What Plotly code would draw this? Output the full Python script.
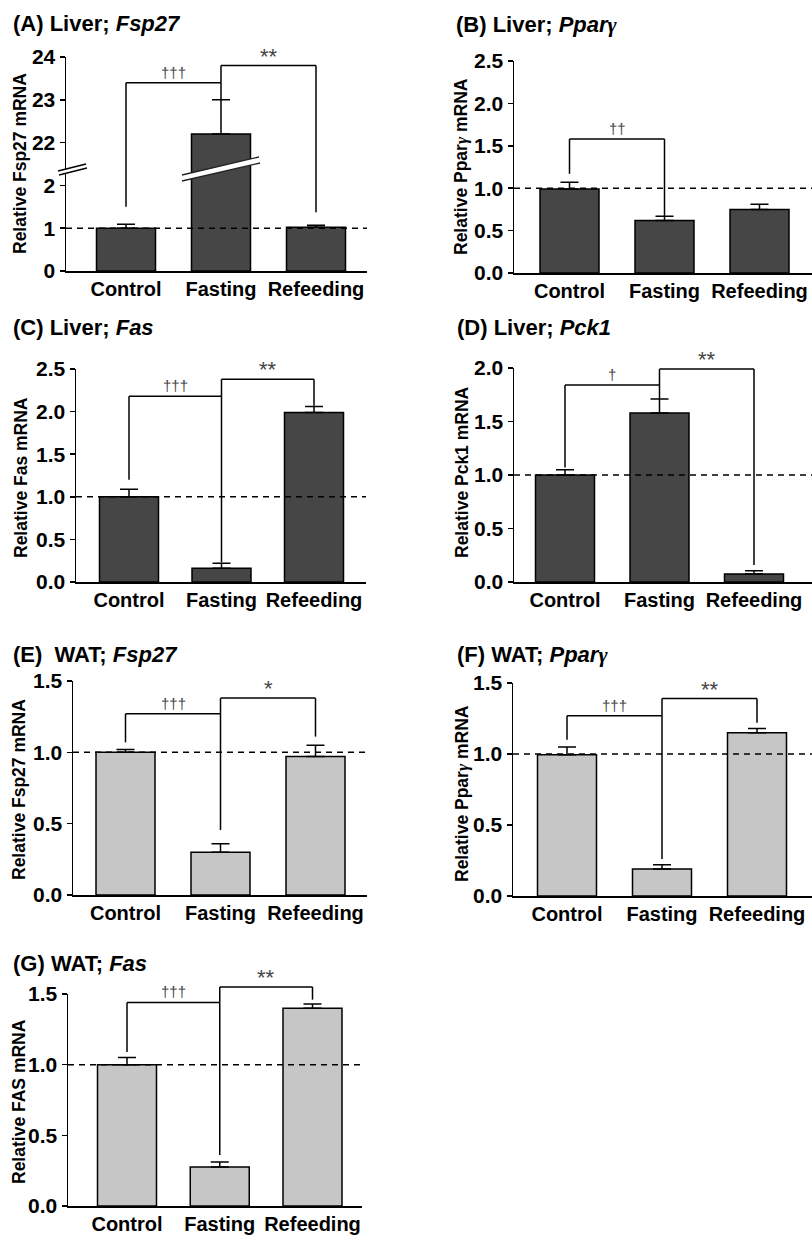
import plotly.graph_objects as go

W, H = 812, 1236
FONT = "Liberation Sans, Arial, Helvetica, sans-serif"
GAMMA = "<span style=\"font-family:Liberation Serif\"><i>\u03b3</i></span>"

categories = ["Control", "Fasting", "Refeeding"]

# ---- data (relative mRNA, mean and upper SEM) ----
liver_fsp27 = [1.00, 22.2, 1.02]
liver_fsp27_err = [0.09, 0.80, 0.05]
liver_ppary = [0.99, 0.62, 0.75]
liver_ppary_err = [0.08, 0.05, 0.06]
liver_fas = [1.00, 0.16, 1.99]
liver_fas_err = [0.09, 0.06, 0.07]
liver_pck1 = [1.00, 1.58, 0.075]
liver_pck1_err = [0.05, 0.13, 0.03]
wat_fsp27 = [1.00, 0.30, 0.97]
wat_fsp27_err = [0.02, 0.06, 0.08]
wat_ppary = [0.995, 0.19, 1.15]
wat_ppary_err = [0.055, 0.03, 0.03]
wat_fas = [1.00, 0.276, 1.40]
wat_fas_err = [0.05, 0.035, 0.03]

# significance brackets: (from, to, bracket level, left leg end, right leg end, label)
brackets_A = [(0, 1, 23.4, 1.5, 23.0, "†††"), (1, 2, 23.8, 23.4, 1.37, "**")]
brackets_B = [(0, 1, 1.58, 1.17, 0.67, "††")]
brackets_C = [(0, 1, 2.18, 1.20, 0.23, "†††"), (1, 2, 2.38, 2.18, 2.07, "**")]
brackets_D = [(0, 1, 1.84, 1.07, 1.71, "†"), (1, 2, 1.99, 1.84, 0.16, "**")]
brackets_E = [(0, 1, 1.27, 1.07, 0.455, "†††"), (1, 2, 1.38, 1.27, 1.11, "*")]
brackets_F = [(0, 1, 1.27, 1.10, 0.26, "†††"), (1, 2, 1.39, 1.27, 1.22, "**")]
brackets_G = [(0, 1, 1.44, 1.09, 0.36, "†††"), (1, 2, 1.55, 1.44, 1.46, "**")]

# axis tick labels
ticks_A = [0, 1, 2, 22, 23, 24]


def scale_A(v):
    # broken axis: values above the break are shifted down
    return v if v < 10 else v - 19


def ident(v):
    return v


LIVER = "#464646"
WAT = "#c6c6c6"

panels = [
    dict(title="(A) Liver; <i>Fsp27</i>", ytitle="Relative Fsp27 mRNA", vals=liver_fsp27,
         errs=liver_fsp27_err, br=brackets_A, color=LIVER, box=(66, 367, 57, 271), c0=126, sp=95,
         yt=(0, 24), f=scale_A, tpos=(11, 24), ypos=(20, 164)),
    dict(title="(B) Liver; <i>Ppar</i>" + GAMMA, ytitle="Relative Ppar" + GAMMA + " mRNA", vals=liver_ppary,
         errs=liver_ppary_err, br=brackets_B, color=LIVER, box=(514, 812, 61, 273), c0=569.5, sp=95,
         yt=(0, 2.5), f=ident, tpos=(454, 25), ypos=(461, 167)),
    dict(title="(C) Liver; <i>Fas</i>", ytitle="Relative Fas mRNA", vals=liver_fas,
         errs=liver_fas_err, br=brackets_C, color=LIVER, box=(76, 366, 369, 582), c0=129, sp=92.5,
         yt=(0, 2.5), f=ident, tpos=(11, 327), ypos=(21, 478)),
    dict(title="(D) Liver; <i>Pck1</i>", ytitle="Relative Pck1 mRNA", vals=liver_pck1,
         errs=liver_pck1_err, br=brackets_D, color=LIVER, box=(514, 812, 368, 582), c0=565, sp=94.5,
         yt=(0, 2.0), f=ident, tpos=(455, 327), ypos=(462, 472)),
    dict(title="(E)  WAT; <i>Fsp27</i>", ytitle="Relative Fsp27 mRNA", vals=wat_fsp27,
         errs=wat_fsp27_err, br=brackets_E, color=WAT, box=(73, 367, 681, 895), c0=125.5, sp=95,
         yt=(0, 1.5), f=ident, tpos=(11, 655), ypos=(19, 790)),
    dict(title="(F) WAT; <i>Ppar</i>" + GAMMA, ytitle="Relative Ppar" + GAMMA + " mRNA", vals=wat_ppary,
         errs=wat_ppary_err, br=brackets_F, color=WAT, box=(513, 812, 683, 896), c0=567, sp=95,
         yt=(0, 1.5), f=ident, tpos=(455, 655), ypos=(462, 794)),
    dict(title="(G) WAT; <i>Fas</i>", ytitle="Relative FAS mRNA", vals=wat_fas,
         errs=wat_fas_err, br=brackets_G, color=WAT, box=(68, 362, 994, 1206), c0=127, sp=92.75,
         yt=(0, 1.5), f=ident, tpos=(11, 963), ypos=(19, 1102)),
]


def px(x):
    return x / W


def py(y):
    return 1 - y / H


fig = go.Figure()
layout = dict(width=W, height=H, margin=dict(l=0, r=0, t=0, b=0, pad=0, autoexpand=False),
              plot_bgcolor="white", paper_bgcolor="white", showlegend=False,
              font=dict(family=FONT, color="black"))
shapes = []
annotations = []

for k, p in enumerate(panels, start=1):
    xa = "x" if k == 1 else f"x{k}"
    ya = "y" if k == 1 else f"y{k}"
    xkey = "xaxis" if k == 1 else f"xaxis{k}"
    ykey = "yaxis" if k == 1 else f"yaxis{k}"
    left, right, top, bottom = p["box"]
    f = p["f"]
    yr = (f(p["yt"][0]), f(p["yt"][1]))
    xr = ((left - p["c0"]) / p["sp"], (right - p["c0"]) / p["sp"])

    fig.add_trace(go.Bar(
        x=categories, y=[f(v) for v in p["vals"]], xaxis=xa, yaxis=ya,
        width=59 / p["sp"], marker=dict(color=p["color"], line=dict(color="black", width=1.5)),
        error_y=dict(type="data", array=p["errs"], arrayminus=[0] * len(p["errs"]), symmetric=False,
                     color="black", thickness=1.5, width=9),
        hoverinfo="skip"))

    layout[xkey] = dict(domain=[px(left), px(right)], range=list(xr), anchor=ya, automargin=False,
                        showline=True, linecolor="black", linewidth=1.5, ticks="",
                        ticklabelstandoff=-1,
                        showgrid=False, zeroline=False, fixedrange=True,
                        tickfont=dict(size=20, family=FONT, weight="bold", color="black"))
    if k == 1:
        tv = [f(t) for t in ticks_A]
        ytick = dict(tickmode="array", tickvals=tv, ticktext=[str(t) for t in ticks_A])
    else:
        ytick = dict(tickmode="linear", tick0=0, dtick=0.5, tickformat=".1f")
    layout[ykey] = dict(domain=[py(bottom), py(top)], range=list(yr), anchor=xa, automargin=False,
                        showline=True, linecolor="black", linewidth=1.5, ticks="outside",
                        ticklen=5, tickwidth=1.5, tickcolor="black", showgrid=False, zeroline=False,
                        fixedrange=True,
                        tickfont=dict(size=21, family=FONT, weight="bold", color="black"), **ytick)

    # dashed reference line at 1
    shapes.append(dict(type="line", xref=f"{xa} domain", x0=0, x1=1, yref=ya, y0=f(1), y1=f(1),
                       line=dict(color="black", width=1.5, dash="6px,5px"), layer="above"))

    # significance brackets
    def frac(v):
        return (f(v) - yr[0]) / (yr[1] - yr[0])

    for (i, j, lev, le, re_, lab) in p["br"]:
        yd = f"{ya} domain"
        lw = dict(color="black", width=1.5)
        shapes.append(dict(type="line", xref=xa, x0=i, x1=i, yref=yd, y0=frac(le), y1=frac(lev), line=lw))
        shapes.append(dict(type="line", xref=xa, x0=i, x1=j, yref=yd, y0=frac(lev), y1=frac(lev), line=lw))
        shapes.append(dict(type="line", xref=xa, x0=j, x1=j, yref=yd, y0=frac(lev), y1=frac(re_), line=lw))
        is_star = "*" in lab
        annotations.append(dict(x=(i + j) / 2, xref=xa, y=frac(lev), yref=yd, text=lab, showarrow=False,
                                xanchor="center", yanchor="bottom", yshift=(-5 if is_star else 0),
                                font=dict(size=(22 if is_star else 15), family=FONT, color="#444")))

    # panel title
    annotations.append(dict(x=px(p["tpos"][0]), y=py(p["tpos"][1]), xref="paper", yref="paper",
                            text="<b>" + p["title"] + "</b>", showarrow=False, xanchor="left",
                            yanchor="middle", font=dict(size=22, family=FONT, color="black")))
    # y axis title
    annotations.append(dict(x=px(p["ypos"][0]), y=py(p["ypos"][1]), xref="paper", yref="paper",
                            text="<b>" + p["ytitle"] + "</b>", showarrow=False, textangle=-90,
                            xanchor="center", yanchor="middle",
                            font=dict(size=17.5, family=FONT, color="black")))

# axis break decorations for panel A (y axis and the Fasting bar)
def pp(x, y):
    return f"{px(x):.5f},{py(y):.5f}"

shapes.append(dict(type="path", xref="paper", yref="paper",
                   path=f"M {pp(58, 171)} L {pp(86, 164)} L {pp(87, 168)} L {pp(59, 175)} Z",
                   fillcolor="white", line=dict(width=0), layer="above"))
shapes.append(dict(type="line", xref="paper", yref="paper", x0=px(58), y0=py(171), x1=px(86), y1=py(164),
                   line=dict(color="black", width=1.3)))
shapes.append(dict(type="line", xref="paper", yref="paper", x0=px(59), y0=py(175), x1=px(87), y1=py(168),
                   line=dict(color="black", width=1.3)))
shapes.append(dict(type="path", xref="paper", yref="paper",
                   path=f"M {pp(182, 175)} L {pp(259, 157)} L {pp(260, 163)} L {pp(182, 181)} Z",
                   fillcolor="white", line=dict(width=0), layer="above"))
shapes.append(dict(type="line", xref="paper", yref="paper", x0=px(182), y0=py(175), x1=px(259), y1=py(157),
                   line=dict(color="#222", width=1.3)))
shapes.append(dict(type="line", xref="paper", yref="paper", x0=px(182), y0=py(181), x1=px(260), y1=py(163),
                   line=dict(color="#222", width=1.3)))

layout["shapes"] = shapes
layout["annotations"] = annotations
fig.update_layout(**layout)
fig.write_html("out.html", config={"displayModeBar": False, "staticPlot": True},
               post_script="document.body.style.margin='0px';document.body.style.overflow='hidden';")
